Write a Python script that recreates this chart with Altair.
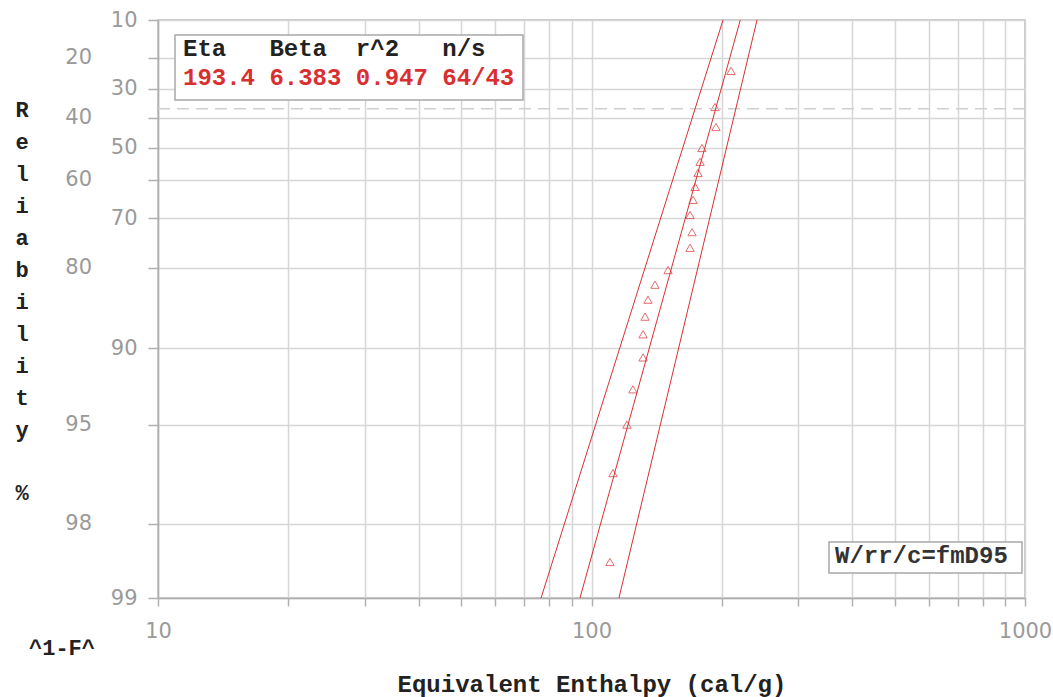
import math
import pandas as pd
import altair as alt

# Weibull fit summary
ETA = 193.4
BETA = 6.383
R_SQ = 0.947
N_S = "64/43"
METHOD = "W/rr/c=fmD95"

# Failure points: equivalent enthalpy (cal/g) and plotted reliability (%)
enthalpy = [209.8, 192.7, 193.7, 179.8, 178.0, 176.1, 173.4, 171.5, 168.8, 170.6,
            168.8, 150.2, 140.1, 135.0, 132.9, 131.5, 131.5, 124.6, 120.7, 112.1, 110.3]
reliability = [24.0, 36.2, 43.1, 50.1, 54.5, 57.9, 61.9, 65.4, 69.2, 73.1,
               76.3, 80.3, 82.6, 84.7, 86.8, 88.7, 90.8, 93.1, 95.0, 96.8, 98.6]

# Confidence bounds, enthalpy at the 99 % and 10 % edges of the paper
rel_ends = [99.0, 10.0]
lower_bound = [76.5, 201.1]
upper_bound = [115.7, 240.9]

# Axis ticks; the "far" reliability labels are staggered away from the axis
y_ticks = [10, 20, 30, 40, 50, 60, 70, 80, 90, 95, 98, 99]
y_far = [20, 40, 60, 80, 95, 98]
x_ticks = [10, 20, 30, 40, 50, 60, 70, 80, 90,
           100, 200, 300, 400, 500, 600, 700, 800, 900, 1000]
x_labelled = [10, 100, 1000]

RED = "#d83030"
MONO = "Liberation Mono"
LABEL_FONT = "DejaVu Sans"
LABEL_COLOR = "#9a9a9a"
NBSP = "\u00a0"


def weibull_y(r):
    return math.log(-math.log(r / 100.0))


WEIBULL = "log(-log(datum.rel / 100))"
REL_OF_VALUE = "round(100 * exp(-exp(datum.value)))"

points = pd.DataFrame({"enthalpy": enthalpy, "rel": reliability})

fit_line = [ETA * (-math.log(r / 100.0)) ** (1.0 / BETA) for r in rel_ends]
lines = pd.concat([
    pd.DataFrame({"series": "lower", "rel": rel_ends, "enthalpy": lower_bound}),
    pd.DataFrame({"series": "fit", "rel": rel_ends, "enthalpy": fit_line}),
    pd.DataFrame({"series": "upper", "rel": rel_ends, "enthalpy": upper_bound}),
])
eta_rule = pd.DataFrame({"rel": [100.0 * math.exp(-1.0)]})

x_scale = alt.Scale(type="log", domain=[10, 1000], nice=False)
y_scale = alt.Scale(domain=[weibull_y(99), weibull_y(10)], nice=False, zero=False)

x_axis = alt.Axis(
    values=x_ticks,
    labelExpr=f"indexof({x_labelled}, datum.value) >= 0 ? format(datum.value, 'd') : ''",
    tickSize=8,
    labelPadding=14,
    labelFlush=False,
    labelOverlap=False,
    title="Equivalent Enthalpy (cal/g)",
    titleY=86,
    titleBaseline="middle",
)
y_axis = alt.Axis(
    values=[weibull_y(v) for v in y_ticks],
    labelExpr=(
        f"indexof({y_far}, {REL_OF_VALUE}) >= 0 ? '' : format({REL_OF_VALUE}, 'd')"
    ),
    labelPadding=11,
    tickSize=10,
    labelFlush=False,
    labelOverlap=False,
    title=None,
)

X = alt.X("enthalpy:Q", scale=x_scale, axis=x_axis)
Y = alt.Y("w:Q", scale=y_scale, axis=y_axis)

point_layer = alt.Chart(points).transform_calculate(w=WEIBULL).mark_point(
    shape="triangle-up", filled=False, color=RED, size=70, strokeWidth=1
).encode(x=X, y=Y)

rule = alt.Chart(eta_rule).transform_calculate(w=WEIBULL).mark_rule(
    color="#cfcfcf", strokeWidth=1.5, strokeDash=[12, 7]
).encode(y=Y)

line_layer = alt.Chart(lines).transform_calculate(w=WEIBULL).mark_line(
    color=RED, strokeWidth=1, clip=True
).encode(x=X, y=Y, detail="series:N")

# Staggered outer column of reliability labels
far_labels = alt.Chart(pd.DataFrame({"rel": y_far})).transform_calculate(
    w=WEIBULL
).mark_text(
    font=LABEL_FONT, fontSize=21, color=LABEL_COLOR, align="right", baseline="middle"
).encode(y=Y, x=alt.value(-66), text=alt.Text("rel:Q", format="d"))

# Parameter box
header = ["Eta", "Beta", "r^2", "n/s"]
values = [f"{ETA}", f"{BETA}", f"{R_SQ}", N_S]
header_line = "".join(h.ljust(6, NBSP) for h in header).rstrip(NBSP)
value_line = "".join(v.ljust(6, NBSP) for v in values).rstrip(NBSP)

one = pd.DataFrame({"k": [0]})

param_box = alt.Chart(one).mark_rect(
    fill="white", stroke="#a8a8a8", strokeWidth=1.5
).encode(x=alt.value(17), x2=alt.value(365), y=alt.value(15), y2=alt.value(80))

param_head = alt.Chart(pd.DataFrame({"t": [header_line]})).mark_text(
    font=MONO, fontSize=24, fontWeight="bold", color="#222222",
    align="left", baseline="middle"
).encode(text="t:N", x=alt.value(25), y=alt.value(29))

param_vals = alt.Chart(pd.DataFrame({"t": [value_line]})).mark_text(
    font=MONO, fontSize=24, fontWeight="bold", color=RED,
    align="left", baseline="middle"
).encode(text="t:N", x=alt.value(25), y=alt.value(58))

# Method box
method_box = alt.Chart(one).mark_rect(
    fill="white", stroke="#a8a8a8", strokeWidth=1.5
).encode(x=alt.value(671), x2=alt.value(864), y=alt.value(522), y2=alt.value(553))

method_text = alt.Chart(pd.DataFrame({"t": [METHOD]})).mark_text(
    font=MONO, fontSize=24, fontWeight="bold", color="#333333",
    align="left", baseline="middle"
).encode(text="t:N", x=alt.value(677), y=alt.value(536))

# Stacked y-axis title
y_title = alt.Chart(one).mark_text(
    font=MONO, fontSize=22, fontWeight="bold", color="#222222",
    align="center", baseline="top", lineHeight=32
).encode(
    x=alt.value(-136), y=alt.value(80),
    text=alt.value(list("Reliability")),
)
y_unit = alt.Chart(pd.DataFrame({"t": ["%"]})).mark_text(
    font=MONO, fontSize=22, fontWeight="bold", color="#222222",
    align="center", baseline="middle"
).encode(text="t:N", x=alt.value(-136), y=alt.value(473))

corner = alt.Chart(pd.DataFrame({"t": ["^1-F^"]})).mark_text(
    font=MONO, fontSize=22, fontWeight="bold", color="#222222",
    align="center", baseline="middle"
).encode(text="t:N", x=alt.value(-96), y=alt.value(628))

chart = alt.layer(
    point_layer, rule, line_layer, far_labels, param_box, param_head, param_vals,
    method_box, method_text, y_title, y_unit, corner,
).properties(
    width=867,
    height=578,
    padding={"left": 158, "top": 20, "right": 28, "bottom": 99},
    autosize=alt.AutoSizeParams(type="none"),
    background="white",
).configure_view(
    stroke="#b8b8b8", strokeWidth=1.5
).configure_axis(
    grid=True,
    gridColor="#d6d6d6",
    gridWidth=1.5,
    domainColor="#b0b0b0",
    domainWidth=1.5,
    tickColor="#b0b0b0",
    tickWidth=1.5,
    labelColor=LABEL_COLOR,
    labelFont=LABEL_FONT,
    labelFontSize=21,
    titleFont=MONO,
    titleFontWeight="bold",
    titleFontSize=24,
    titleColor="#222222",
)

chart.save("out.html", embed_options={"renderer": "svg", "actions": False})
